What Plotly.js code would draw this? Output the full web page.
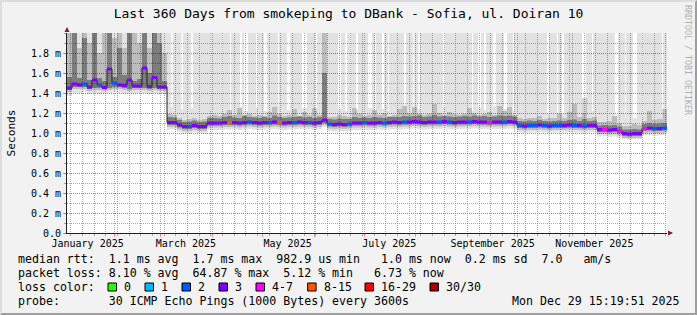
<!DOCTYPE html>
<html><head><meta charset="utf-8">
<script src="https://cdn.plot.ly/plotly-3.0.1.min.js"></script>
<style>
html,body{margin:0;padding:0;background:#f2f2f2;}
#wrap{position:relative;width:697px;height:315px;overflow:hidden;}
#chart{width:697px;height:315px;}
#frame{position:absolute;left:0;top:0;width:697px;height:315px;box-sizing:border-box;border-style:solid;border-width:2px;border-color:#dcdcdc #9e9e9e #9e9e9e #dcdcdc;pointer-events:none;}
</style></head><body>
<div id="wrap"><div id="chart"></div><div id="frame"></div></div>
<script>
// ---------------- DATA ----------------
const START = Date.UTC(2025, 0, 3, 15, 19, 51);   // Last 360 days ending Mon Dec 29 15:19:51 2025
const DAY = 86400000;
const STEP_DAYS = 3;

// median RTT (ms) per 3-day step
const median = [
 1.45,1.49,1.48,1.49,1.46,1.53,1.48,1.455,1.64,1.50,1.48,1.475,1.53,1.47,1.47,1.65,1.465,1.555,1.46,1.46,
 1.105,1.105,1.08,1.065,1.065,1.075,1.065,1.065,1.10,1.10,1.10,1.105,1.105,
 1.105,1.10,1.105,1.11,1.105,1.10,1.105,1.105,1.11,1.105,1.10,1.105,1.105,1.11,1.105,1.105,1.10,1.105,
 1.13,1.09,1.085,1.09,1.085,1.09,
 1.10,1.10,1.105,1.10,1.10,1.105,1.10,1.105,
 1.11,1.105,1.11,1.11,1.115,1.11,1.105,1.11,1.11,1.11,1.115,1.11,1.105,1.11,1.11,1.11,1.115,1.11,1.11,1.105,1.11,1.11,1.11,1.115,1.11,
 1.075,1.07,1.075,1.075,1.08,1.075,1.07,1.075,1.075,1.075,1.08,1.075,1.075,1.07,1.075,1.075,
 1.035,1.035,1.03,1.035,1.02,
 0.995,0.99,0.995,0.995,
 1.045,1.05,1.045,1.045,1.05];

// lost pings (of 30) per step
const loss = [
 3,3,3,2,3,3,2,3,3,2,3,3,3,3,3,3,3,3,3,3,
 3,3,3,3,2,3,3,3,3,3,3,3,9,
 3,3,3,2,3,3,3,2,3,9,3,3,2,3,3,2,3,3,
 3,2,3,3,3,2,3,3,2,3,3,3,2,3,
 3,3,2,3,3,3,3,3,3,2,3,2,3,3,3,2,3,3,3,5,3,3,2,3,3,
 2,3,2,2,3,2,3,2,2,3,3,2,3,2,3,3,
 3,5,3,3,5,3,3,3,3,5,3,2,3,2];

// smoke: ping distribution per step (ms)
const minRtt = [
 1.37,1.40,1.40,1.41,1.39,1.40,1.39,1.39,1.40,1.41,1.40,1.40,1.39,1.40,1.40,1.40,1.39,1.40,1.39,1.39,
 1.035,1.035,1.01,0.995,0.995,1.005,0.995,0.995,1.03,1.03,1.03,1.035,1.035,
 1.035,1.03,1.035,1.04,1.035,1.03,1.035,1.035,1.04,1.035,1.03,1.035,1.035,1.04,1.035,1.035,1.03,1.035,
 1.06,1.02,1.015,1.02,1.015,1.02,
 1.03,1.03,1.035,1.03,1.03,1.035,1.03,1.035,
 1.04,1.035,1.04,1.04,1.045,1.04,1.035,1.04,1.04,1.04,1.045,1.04,1.035,1.04,1.04,1.04,1.045,1.04,1.04,1.035,1.04,1.04,1.04,1.045,1.04,
 1.005,1.0,1.005,1.005,1.01,1.005,1.0,1.005,1.005,1.005,1.01,1.005,1.005,1.0,1.005,1.005,
 0.965,0.965,0.96,0.965,0.95,
 0.94,0.935,0.94,0.94,
 0.975,0.98,0.975,0.975,0.98];
const p10 = [
 1.41,1.44,1.44,1.44,1.42,1.43,1.43,1.42,1.43,1.44,1.44,1.43,1.42,1.43,1.43,1.43,1.42,1.43,1.42,1.42,
 1.06,1.06,1.035,1.02,1.02,1.03,1.02,1.02,1.055,1.055,1.055,1.06,1.06,
 1.06,1.055,1.06,1.065,1.06,1.055,1.06,1.06,1.065,1.06,1.055,1.06,1.06,1.065,1.06,1.06,1.055,1.06,
 1.08,1.045,1.04,1.045,1.04,1.045,
 1.055,1.055,1.06,1.055,1.055,1.06,1.055,1.06,
 1.065,1.06,1.065,1.065,1.07,1.065,1.06,1.065,1.065,1.065,1.07,1.065,1.06,1.065,1.065,1.065,1.07,1.065,1.065,1.06,1.065,1.065,1.065,1.07,1.065,
 1.03,1.025,1.03,1.03,1.035,1.03,1.025,1.03,1.03,1.03,1.035,1.03,1.03,1.025,1.03,1.03,
 0.99,0.99,0.985,0.99,0.975,
 0.95,0.945,0.95,0.95,
 1.0,1.005,1.0,1.0,1.005];
const p25 = [
 1.43,1.46,1.46,1.46,1.44,1.45,1.45,1.44,1.45,1.46,1.46,1.45,1.44,1.45,1.45,1.45,1.44,1.45,1.44,1.44,
 1.08,1.08,1.055,1.04,1.04,1.05,1.04,1.04,1.075,1.075,1.075,1.08,1.08,
 1.08,1.075,1.08,1.085,1.08,1.075,1.08,1.08,1.085,1.08,1.075,1.08,1.08,1.085,1.08,1.08,1.075,1.08,
 1.10,1.065,1.06,1.065,1.06,1.065,
 1.075,1.075,1.08,1.075,1.075,1.08,1.075,1.08,
 1.085,1.08,1.085,1.085,1.09,1.085,1.08,1.085,1.085,1.085,1.09,1.085,1.08,1.085,1.085,1.085,1.09,1.085,1.085,1.08,1.085,1.085,1.085,1.09,1.085,
 1.05,1.045,1.05,1.05,1.055,1.05,1.045,1.05,1.05,1.05,1.055,1.05,1.05,1.045,1.05,1.05,
 1.01,1.01,1.005,1.01,0.995,
 0.97,0.965,0.97,0.97,
 1.02,1.025,1.02,1.02,1.025];
const p75 = [
 1.56,2.1,1.55,1.95,1.53,2.0,1.55,1.52,2.1,1.56,1.85,1.58,2.1,1.52,1.54,2.1,1.6,2.1,1.9,1.52,
 1.16,1.155,1.13,1.11,1.115,1.125,1.11,1.115,1.15,1.15,1.145,1.16,1.17,
 1.155,1.15,1.17,1.16,1.155,1.15,1.16,1.15,1.175,1.16,1.15,1.155,1.16,1.165,1.155,1.16,1.15,1.16,
 1.6,1.14,1.135,1.145,1.14,1.14,
 1.16,1.15,1.155,1.15,1.16,1.155,1.15,1.16,
 1.16,1.16,1.17,1.165,1.17,1.175,1.16,1.165,1.18,1.165,1.17,1.165,1.16,1.165,1.17,1.165,1.175,1.165,1.17,1.16,1.165,1.175,1.17,1.175,1.165,
 1.12,1.115,1.125,1.12,1.13,1.12,1.115,1.12,1.125,1.12,1.13,1.135,1.12,1.14,1.12,1.125,
 1.075,1.08,1.075,1.08,1.065,
 1.035,1.035,1.04,1.035,
 1.09,1.10,1.09,1.095,1.10];
const p90 = [
 2.1,2.1,1.85,2.1,1.9,2.1,1.8,2.1,2.1,1.95,2.1,1.85,2.1,2.0,1.9,2.1,1.85,2.1,2.1,1.8,
 1.19,1.18,1.15,1.13,1.14,1.15,1.13,1.14,1.17,1.18,1.17,1.19,1.23,
 1.18,1.25,1.18,1.19,1.17,1.18,1.17,1.21,1.26,1.19,1.17,1.18,1.24,1.17,1.21,1.18,1.25,1.18,
 2.1,1.16,1.16,1.18,1.17,1.16,
 1.25,1.19,1.17,1.18,1.23,1.18,1.20,1.17,
 1.18,1.24,1.27,1.20,1.26,1.19,1.18,1.19,1.29,1.20,1.18,1.21,1.19,1.18,1.19,1.25,1.20,1.18,1.19,1.21,1.18,1.27,1.22,1.26,1.18,
 1.15,1.14,1.15,1.15,1.17,1.14,1.15,1.15,1.19,1.15,1.21,1.29,1.16,1.35,1.15,1.16,
 1.11,1.11,1.12,1.17,1.10,
 1.07,1.07,1.09,1.08,
 1.12,1.22,1.13,1.14,1.24];

// max RTT is above the plotted range except in these spans (days since start) where it stayed low
const HIGH_MAX = 2.1;
const lowMaxFrom = [62.4,68.7,74.4,85.8,93,97.8,103.8,106.2,113.4,118.2,126.6,132,141,148.8,162.6,166.8,169.8,173.4,180.6,184.8,189,192.6,202.2,207.6,210.6,225.6,243,246.6,250.2,255.6,262.2,267.6,288,294,297,309,315,328.8,334.8,339.6,345,357];
const lowMaxTo   = [63.3,69.6,75.6,86.4,93.6,98.4,105,108.6,114.6,120,127.2,133.8,144,150,164.4,168,170.4,174.6,183,185.4,190.2,193.2,203.4,208.2,211.8,226.8,243.6,248.4,251.4,257.4,264,268.2,289.2,294.6,298.2,311.4,315.6,330.6,335.4,342,345.6,357.6];
const lowMaxVal  = [1.26,1.24,1.25,1.22,1.24,1.23,1.26,1.22,1.25,1.22,1.27,1.23,1.25,1.22,1.24,1.22,1.26,1.23,1.25,1.22,1.24,1.22,1.28,1.25,1.24,1.26,1.22,1.25,1.23,1.27,1.24,1.22,1.2,1.21,1.19,1.2,1.22,1.17,1.15,1.15,1.16,1.13];

const lossRanges = [[0,0],[1,1],[2,2],[3,3],[4,7],[8,15],[16,29],[30,30]];
const lossLabels = ['0','1','2','3','4-7','8-15','16-29','30/30'];
const lossColors = ['#26ff00','#00b8ff','#0059ff','#7e00ff','#ff00ff','#ff5500','#ff0000','#a10000'];

const yTickVals = [0,0.2,0.4,0.6,0.8,1.0,1.2,1.4,1.6,1.8];
const yTickText = ['0.0','0.2 m','0.4 m','0.6 m','0.8 m','1.0 m','1.2 m','1.4 m','1.6 m','1.8 m'];
const xLabelDates = ['2025-01-16','2025-03-16','2025-05-16','2025-07-16','2025-09-16','2025-11-16'];
const xLabelText = ['January 2025','March 2025','May 2025','July 2025','September 2025','November 2025'];

const titleText = 'Last 360 Days from smokeping to DBank - Sofia, ul. Doiran 10';
const statLines = [
 'median rtt:  1.1 ms avg  1.7 ms max  982.9 us min   1.0 ms now  0.2 ms sd  7.0   am/s',
 'packet loss: 8.10 % avg  64.87 % max  5.12 % min   6.73 % now'];
const lossColorLabel = 'loss color:';
const probeLine = 'probe:       30 ICMP Echo Pings (1000 Bytes) every 3600s';
const stampText = 'Mon Dec 29 15:19:51 2025';
const creditText = 'RRDTOOL / TOBI OETIKER';

// ---------------- BUILD ----------------
const N = median.length;
const d2s = ms => new Date(ms).toISOString().slice(0,19).replace('T',' ');
const END = START + N*STEP_DAYS*DAY;
const stepX = [];
for (let i=0;i<=N;i++) stepX.push(d2s(START + i*STEP_DAYS*DAY));
const stepY = a => a.concat([a[a.length-1]]);

const topX=[d2s(START)], topY=[HIGH_MAX];
for (let k=0;k<lowMaxFrom.length;k++){
  topX.push(d2s(START+lowMaxFrom[k]*DAY)); topY.push(lowMaxVal[k]);
  topX.push(d2s(START+lowMaxTo[k]*DAY)); topY.push(HIGH_MAX);
}
topX.push(d2s(END)); topY.push(HIGH_MAX);

const edge = {width:0};
const base = {type:'scatter', mode:'lines', hoverinfo:'skip', showlegend:false};
const traces = [
 Object.assign({}, base, {x:stepX, y:stepY(minRtt), line:Object.assign({shape:'hv'},edge)}),
 Object.assign({}, base, {x:topX, y:topY, line:Object.assign({shape:'hv'},edge), fill:'tonexty', fillcolor:'rgba(0,0,0,0.115)'}),
 Object.assign({}, base, {x:stepX, y:stepY(p10), line:Object.assign({shape:'hv'},edge)}),
 Object.assign({}, base, {x:stepX, y:stepY(p90), line:Object.assign({shape:'hv'},edge), fill:'tonexty', fillcolor:'rgba(0,0,0,0.17)'}),
 Object.assign({}, base, {x:stepX, y:stepY(p25), line:Object.assign({shape:'hv'},edge)}),
 Object.assign({}, base, {x:stepX, y:stepY(p75), line:Object.assign({shape:'hv'},edge), fill:'tonexty', fillcolor:'rgba(0,0,0,0.34)'}),
 Object.assign({}, base, {x:stepX, y:stepY(median), line:{shape:'hv', width:1, color:'#202020'}})
];
lossRanges.forEach((r,c)=>{
  const xs=[], ys=[];
  for (let i=0;i<N;i++){
    if (loss[i]>=r[0] && loss[i]<=r[1]){
      xs.push(stepX[i], stepX[i+1], stepX[i+1]);
      ys.push(median[i], median[i], null);
    }
  }
  if (xs.length) traces.push(Object.assign({}, base, {x:xs, y:ys, connectgaps:false, line:{width:3, color:lossColors[c]}}));
});
traces.push({type:'scatter', mode:'markers', x:[xLabelDates[0]], y:[null], xaxis:'x2', yaxis:'y', hoverinfo:'skip', showlegend:false});

// pixel helpers for the legend area (plot area: left 67, top 33, 600x200)
const PL=67, PT=33, PW=600, PH=200;
const px = x => (x-PL)/PW, py = y => (PT+PH-y)/PH;
const nb = s => s.replace(/ /g,'\u00a0');
const mono = 'DejaVu Sans Mono';
const legFont = {family:mono, size:11.6, color:'#000'};

const annotations = [];
const lineY = [259, 273, 287, 301];
statLines.forEach((s,i)=>annotations.push({xref:'paper',yref:'paper',x:px(15.5),y:py(lineY[i]),xanchor:'left',yanchor:'middle',showarrow:false,text:nb(s),font:legFont}));
annotations.push({xref:'paper',yref:'paper',x:px(15.5),y:py(lineY[2]),xanchor:'left',yanchor:'middle',showarrow:false,text:nb(lossColorLabel),font:legFont});
annotations.push({xref:'paper',yref:'paper',x:px(15.5),y:py(lineY[3]),xanchor:'left',yanchor:'middle',showarrow:false,text:nb(probeLine),font:legFont});
annotations.push({xref:'paper',yref:'paper',x:px(682),y:py(lineY[3]),xanchor:'right',yanchor:'middle',showarrow:false,text:nb(stampText),font:legFont});
annotations.push({xref:'paper',yref:'paper',x:px(688),y:py(60),xanchor:'center',yanchor:'middle',showarrow:false,textangle:90,text:nb(creditText),font:{family:mono,size:8.3,color:'#b0b0b0'}});

const shapes = [];
const sqLeft = [108,145,182,219,256,307.6,365,430];
lossLabels.forEach((lab,i)=>{
  shapes.push({type:'rect',xref:'paper',yref:'paper',x0:px(sqLeft[i]),x1:px(sqLeft[i]+8.5),y0:py(291),y1:py(283),fillcolor:lossColors[i],line:{color:'#000',width:1}});
  annotations.push({xref:'paper',yref:'paper',x:px(sqLeft[i]+14),y:py(lineY[2]),xanchor:'left',yanchor:'middle',showarrow:false,text:nb(lab),font:legFont});
});
// axis arrows
annotations.push({xref:'paper',yref:'paper',x:px(67),y:py(27),ax:0,ay:6,showarrow:true,arrowhead:2,arrowsize:1,arrowwidth:1,arrowcolor:'#801f1f',text:''});
annotations.push({xref:'paper',yref:'paper',x:px(673),y:py(233),ax:-6,ay:0,showarrow:true,arrowhead:2,arrowsize:1,arrowwidth:1,arrowcolor:'#801f1f',text:''});

const MAJ = 'rgba(222,79,79,0.6)', MIN = 'rgba(143,143,143,0.75)';
const layout = {
  width:697, height:315,
  margin:{l:PL, r:697-PL-PW, t:PT, b:315-PT-PH},
  paper_bgcolor:'#f2f2f2', plot_bgcolor:'#ffffff',
  showlegend:false,
  font:{family:mono, size:10, color:'#000'},
  title:{text:titleText, font:{family:mono,size:13,color:'#000'}, x:0.5, xref:'container', xanchor:'center', y:1-13/315, yref:'container', yanchor:'middle'},
  xaxis:{type:'date', range:[d2s(START), d2s(END)], tickmode:'linear', dtick:'M1', tick0:'2025-01-01',
    showgrid:true, gridcolor:MAJ, griddash:'1px,1px', gridwidth:1,
    ticks:'outside', ticklen:3, tickcolor:MAJ, showticklabels:false,
    showline:true, linecolor:'#1f1f1f', linewidth:1, zeroline:false, layer:'above traces',
    minor:{tickmode:'linear', tick0:'2025-01-06', dtick:7*DAY, showgrid:true, gridcolor:MIN, griddash:'1px,1px', gridwidth:1, ticks:'outside', ticklen:2, tickcolor:MIN}},
  xaxis2:{type:'date', overlaying:'x', anchor:'y', side:'bottom', range:[d2s(START), d2s(END)],
    tickmode:'array', tickvals:xLabelDates, ticktext:xLabelText, ticks:'', showgrid:false, showline:false, zeroline:false,
    tickfont:{family:mono,size:10,color:'#000'}, ticklabelstandoff:3},
  yaxis:{range:[0,2.0], tickmode:'array', tickvals:yTickVals, ticktext:yTickText,
    showgrid:true, gridcolor:MAJ, griddash:'1px,1px', gridwidth:1,
    ticks:'outside', ticklen:3, tickcolor:MAJ, tickfont:{family:mono,size:10,color:'#000'},
    showline:true, linecolor:'#1f1f1f', linewidth:1, zeroline:false, layer:'above traces',
    minor:{tickmode:'linear', tick0:0, dtick:0.1, showgrid:true, gridcolor:MIN, griddash:'1px,1px', gridwidth:1, ticks:'outside', ticklen:2, tickcolor:MIN},
    title:{text:'Seconds', font:{family:mono,size:11.2,color:'#000'}, standoff:12}},
  annotations, shapes
};
Plotly.newPlot('chart', traces, layout, {staticPlot:true, displayModeBar:false});
</script></body></html>
